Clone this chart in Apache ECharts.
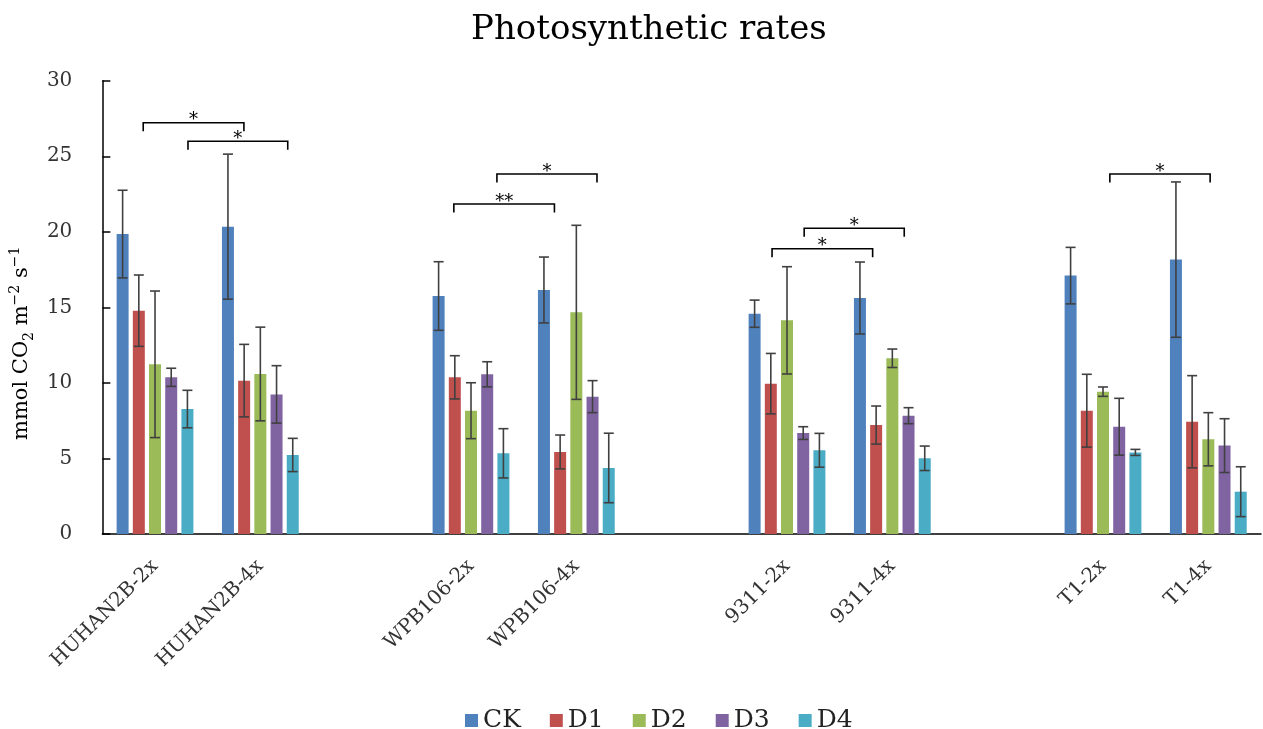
<!DOCTYPE html>
<html>
<head>
<meta charset="utf-8">
<script src="https://cdn.jsdelivr.net/npm/echarts@6/dist/echarts.min.js"></script>
<style>html,body{margin:0;padding:0;background:#fff;}#c{width:1263px;height:729px;}</style>
</head>
<body>
<div id="c"></div>
<script>
// ---- data ----
const categories = ['HUHAN2B-2x', 'HUHAN2B-4x', '', 'WPB106-2x', 'WPB106-4x', '', '9311-2x', '9311-4x', '', 'T1-2x', 'T1-4x'];
const seriesNames = ['CK', 'D1', 'D2', 'D3', 'D4'];
const ckValues = [19.85, 20.34, null, 15.75, 16.15, null, 14.58, 15.62, null, 17.10, 18.16];
const ckErrors = [2.90, 4.80, null, 2.27, 2.18, null, 0.90, 2.38, null, 1.87, 5.14];
const d1Values = [14.78, 10.15, null, 10.37, 5.43, null, 9.95, 7.21, null, 8.16, 7.43];
const d1Errors = [2.36, 2.40, null, 1.43, 1.12, null, 2.00, 1.26, null, 2.41, 3.05];
const d2Values = [11.23, 10.59, null, 8.16, 14.67, null, 14.14, 11.63, null, 9.42, 6.27];
const d2Errors = [4.85, 3.10, null, 1.85, 5.76, null, 3.55, 0.61, null, 0.31, 1.76];
const d3Values = [10.37, 9.24, null, 10.57, 9.09, null, 6.68, 7.83, null, 7.10, 5.85];
const d3Errors = [0.60, 1.90, null, 0.83, 1.06, null, 0.42, 0.53, null, 1.88, 1.78];
const d4Values = [8.27, 5.23, null, 5.34, 4.37, null, 5.54, 5.01, null, 5.40, 2.80];
const d4Errors = [1.24, 1.10, null, 1.63, 2.30, null, 1.12, 0.81, null, 0.20, 1.65];
const yTicks = [0, 5, 10, 15, 20, 25, 30];
// significance brackets: [startCategory, startOffset(band), endCategory, endOffset(band), yValue]
const bracketSpans = [
  [0, -0.112, 1, -0.156, 27.22],
  [0, 0.313, 1, 0.260, 25.99],
  [3, -0.163, 4, -0.208, 21.84],
  [3, 0.246, 4, 0.196, 23.83],
  [6, -0.142, 7, -0.187, 18.88],
  [6, 0.163, 7, 0.113, 20.23],
  [9, 0.065, 10, 0.017, 23.83]
];
const bracketLabels = ['*', '*', '**', '*', '*', '*', '*'];

// ---- chart ----
const valuesList = [ckValues, d1Values, d2Values, d3Values, d4Values];
const errorsList = [ckErrors, d1Errors, d2Errors, d3Errors, d4Errors];
const colors = ['#4F81BD', '#C0504D', '#9BBB59', '#8064A2', '#4BACC6'];
const FONT = 'DejaVu Serif';
const BAR_W = 12, BAR_GAP = 0.35;
const BAR_STEP = BAR_W * (1 + BAR_GAP);

const errData = [];
valuesList.forEach((vals, s) => {
  vals.forEach((v, i) => {
    if (v == null) return;
    const e = errorsList[s][i];
    errData.push([i, s, v - e, v + e]);
  });
});

const chart = echarts.init(document.getElementById('c'), null, {renderer: 'canvas'});
const barSeries = seriesNames.map((name, s) => ({
  name: name,
  type: 'bar',
  data: valuesList[s],
  barWidth: BAR_W,
  barGap: (BAR_GAP * 100) + '%',
  itemStyle: {color: colors[s]},
  z: 2
}));

const option = {
  backgroundColor: '#ffffff',
  animation: false,
  color: colors,
  title: {
    text: 'Photosynthetic rates',
    left: 466,
    top: 8,
    textStyle: {fontFamily: FONT, fontSize: 34, fontWeight: 'normal', color: '#000'}
  },
  legend: {
    data: seriesNames,
    left: 460,
    top: 703,
    itemWidth: 13,
    itemHeight: 13,
    itemGap: 29,
    icon: 'rect',
    textStyle: {fontFamily: FONT, fontSize: 25, color: '#222'}
  },
  grid: {left: 98, right: 2, top: 80.7, bottom: 195, containLabel: false},
  xAxis: {
    type: 'category',
    data: categories,
    axisLine: {lineStyle: {color: '#000', width: 1.5}},
    axisTick: {inside: true, length: 7, lineStyle: {color: '#000', width: 1.5}},
    axisLabel: {
      interval: 0, rotate: 45, margin: 29,
      fontFamily: FONT, fontSize: 20, color: '#333'
    }
  },
  yAxis: {
    type: 'value',
    min: yTicks[0], max: yTicks[yTicks.length - 1], interval: yTicks[1] - yTicks[0],
    splitLine: {show: false},
    axisLine: {show: true, lineStyle: {color: '#000', width: 1.5}},
    axisTick: {show: true, inside: true, length: 8, lineStyle: {color: '#000', width: 1.5}},
    axisLabel: {margin: 30, fontFamily: FONT, fontSize: 20, color: '#333'},
    name: '{n|mmol CO}{sub|2}{n| m}{sup|−2}{n| s}{sup|−1}',
    nameLocation: 'middle',
    nameRotate: 90,
    nameGap: 58,
    nameTextStyle: {
      padding: [0, 72, 0, 0],
      rich: {
        n: {fontFamily: FONT, fontSize: 21, color: '#000', lineHeight: 28, verticalAlign: 'middle'},
        sub: {fontFamily: FONT, fontSize: 14, color: '#000', lineHeight: 14, verticalAlign: 'bottom'},
        sup: {fontFamily: FONT, fontSize: 14, color: '#000', lineHeight: 14, verticalAlign: 'top'}
      }
    }
  },
  series: barSeries.concat([
    {
      type: 'custom',
      name: 'errors',
      data: errData,
      encode: {x: 0, y: [2, 3]},
      z: 5,
      renderItem: function (params, api) {
        const cat = api.value(0), s = api.value(1);
        const lo = api.coord([cat, api.value(2)]);
        const hi = api.coord([cat, api.value(3)]);
        const x = lo[0] + (s - 2) * BAR_STEP;
        const cw = 5;
        const st = {stroke: '#404040', lineWidth: 1.6};
        return {
          type: 'group',
          children: [
            {type: 'line', shape: {x1: x, y1: lo[1], x2: x, y2: hi[1]}, style: st},
            {type: 'line', shape: {x1: x - cw, y1: lo[1], x2: x + cw, y2: lo[1]}, style: st},
            {type: 'line', shape: {x1: x - cw, y1: hi[1], x2: x + cw, y2: hi[1]}, style: st}
          ]
        };
      }
    },
    {
      type: 'custom',
      name: 'brackets',
      data: bracketSpans,
      encode: {x: 0, y: 4},
      z: 6,
      renderItem: function (params, api) {
        const bw = api.size([1, 0])[0];
        const p1 = api.coord([api.value(0), api.value(4)]);
        const p2 = api.coord([api.value(2), api.value(4)]);
        const x1 = p1[0] + api.value(1) * bw;
        const x2 = p2[0] + api.value(3) * bw;
        const y = p1[1];
        const drop = 8.5;
        return {
          type: 'group',
          children: [
            {type: 'polyline', shape: {points: [[x1, y + drop], [x1, y], [x2, y], [x2, y + drop]]},
             style: {stroke: '#000', lineWidth: 1.6, fill: null}},
            {type: 'text', x: (x1 + x2) / 2, y: y - 2,
             style: {text: bracketLabels[params.dataIndex], fontFamily: FONT, fontSize: 18, fill: '#000',
                     textAlign: 'center', textVerticalAlign: 'middle'}}
          ]
        };
      }
    }
  ])
};
chart.setOption(option);
</script>
</body>
</html>
